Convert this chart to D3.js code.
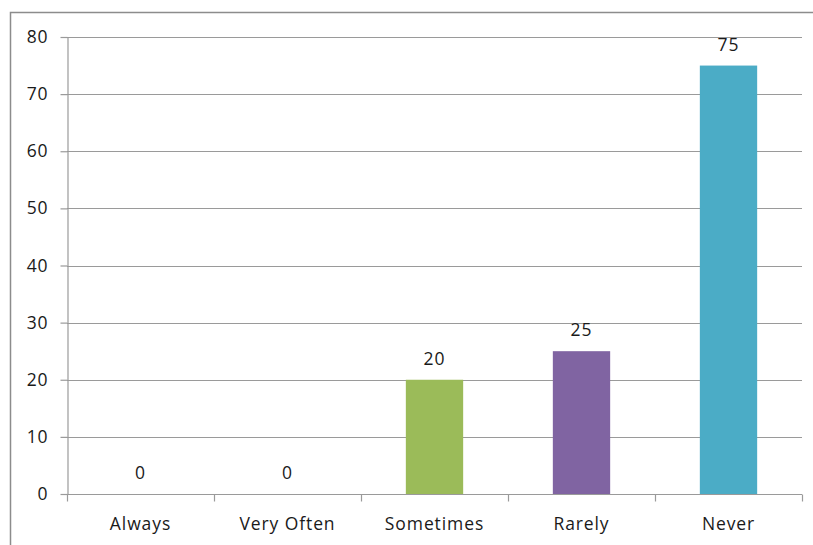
<!DOCTYPE html>
<html>
<head>
<meta charset="utf-8">
<script src="https://cdn.jsdelivr.net/npm/d3@7"></script>
<style>
  html, body { margin: 0; padding: 0; background: #fff; }
  svg { display: block; }
  text { font-family: "Open Sans", "DejaVu Sans", sans-serif; fill: #1a1a1a; }
</style>
</head>
<body>
<svg id="chart" width="813" height="545"></svg>
<script>
// Survey response frequencies
const categories = ["Always", "Very Often", "Sometimes", "Rarely", "Never"];
const values = [0, 0, 20, 25, 75];
const colors = ["#4F81BD", "#C0504D", "#9BBB59", "#8064A2", "#4BACC6"];
const yTicks = [0, 10, 20, 30, 40, 50, 60, 70, 80];

const svg = d3.select("#chart");
const margin = { left: 67, right: 11, top: 37, bottom: 51 };
const W = 813, H = 545;
const fontSize = 17.5;
const spacing = 0.9;

// outer frame (top and left edges)
svg.append("path")
  .attr("d", `M10.5,${H} V12.5 H${W}`)
  .attr("fill", "none")
  .attr("stroke", "#8c8c8c")
  .attr("stroke-width", 1.5);

const x = d3.scaleBand()
  .domain(categories)
  .range([margin.left, W - margin.right])
  .paddingInner(0)
  .paddingOuter(0);

const y = d3.scaleLinear()
  .domain([0, 80])
  .range([H - margin.bottom, margin.top]);

// horizontal gridlines
svg.append("g")
  .selectAll("line")
  .data(yTicks.filter(d => d > 0))
  .join("line")
  .attr("x1", margin.left)
  .attr("x2", W - margin.right)
  .attr("y1", d => Math.round(y(d)) + 0.5)
  .attr("y2", d => Math.round(y(d)) + 0.5)
  .attr("stroke", "#9a9a9a")
  .attr("stroke-width", 1.2);

// y axis
const yAxis = svg.append("g")
  .attr("transform", `translate(${margin.left + 0.5},0)`)
  .call(d3.axisLeft(y).tickValues(yTicks).tickSize(7).tickPadding(12).tickSizeOuter(0));
yAxis.select(".domain").attr("stroke", "#9a9a9a").attr("stroke-width", 1.2);
yAxis.selectAll(".tick line").attr("stroke", "#9a9a9a").attr("stroke-width", 1.2);
yAxis.selectAll(".tick text")
  .attr("font-size", fontSize)
  .attr("letter-spacing", spacing)
  .attr("fill", "#1a1a1a");

// bars
svg.append("g")
  .selectAll("rect")
  .data(values)
  .join("rect")
  .attr("x", (d, i) => x(categories[i]) + x.bandwidth() * 0.305)
  .attr("width", x.bandwidth() * 0.39)
  .attr("y", d => y(d))
  .attr("height", d => y(0) - y(d))
  .attr("fill", (d, i) => colors[i]);

// x axis with boundary ticks between categories
const xBase = Math.round(y(0)) + 0.5;
const xg = svg.append("g");
xg.append("line")
  .attr("x1", margin.left).attr("x2", W - margin.right)
  .attr("y1", xBase).attr("y2", xBase)
  .attr("stroke", "#9a9a9a").attr("stroke-width", 1.2);
const bounds = categories.map(c => x(c)).concat([x(categories[categories.length - 1]) + x.bandwidth()]);
xg.selectAll("line.tick")
  .data(bounds)
  .join("line")
  .attr("class", "tick")
  .attr("x1", d => Math.round(d) + 0.5).attr("x2", d => Math.round(d) + 0.5)
  .attr("y1", xBase).attr("y2", xBase + 7)
  .attr("stroke", "#9a9a9a").attr("stroke-width", 1.2);
xg.selectAll("text")
  .data(categories)
  .join("text")
  .attr("x", d => x(d) + x.bandwidth() / 2)
  .attr("y", H - 15)
  .attr("text-anchor", "middle")
  .attr("font-size", fontSize)
  .attr("letter-spacing", spacing)
  .text(d => d);

// value labels
svg.append("g")
  .selectAll("text")
  .data(values)
  .join("text")
  .attr("x", (d, i) => x(categories[i]) + x.bandwidth() / 2)
  .attr("y", d => y(d) - 15)
  .attr("text-anchor", "middle")
  .attr("font-size", fontSize)
  .attr("letter-spacing", spacing)
  .text(d => d);
</script>
</body>
</html>
